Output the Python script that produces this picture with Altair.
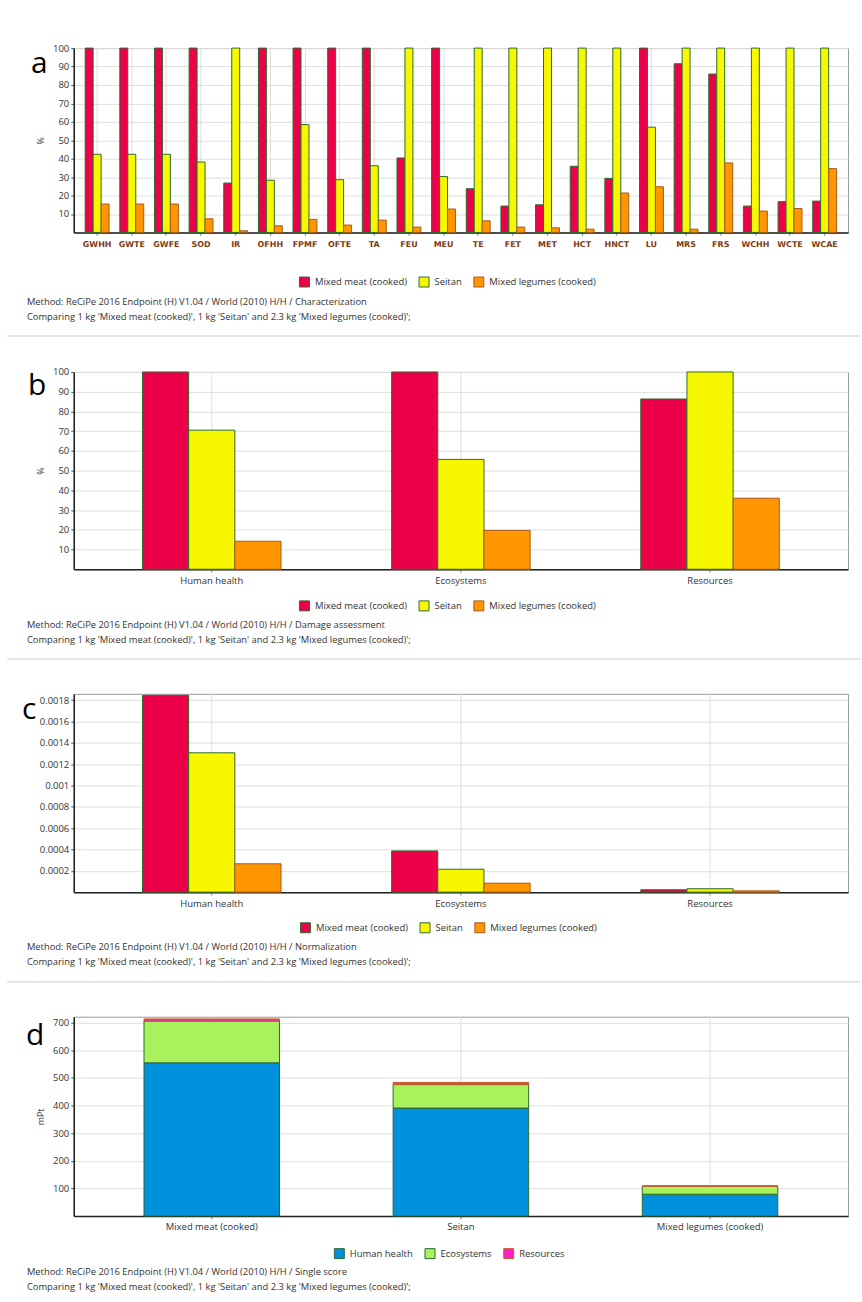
import altair as alt
import pandas as pd

FONT = "Open Sans"
TXT = "#333333"

series = ["Mixed meat (cooked)", "Seitan", "Mixed legumes (cooked)"]
series_fill = ["#EC0049", "#F7F700", "#FF9600"]
series_stroke = ["#2D6A2D", "#2D6A2D", "#A65A1E"]

letters = ["a", "b", "c", "d"]

# Panel a: characterization (%)
cats_a = ["GWHH", "GWTE", "GWFE", "SOD", "IR", "OFHH", "FPMF", "OFTE", "TA", "FEU", "MEU",
          "TE", "FET", "MET", "HCT", "HNCT", "LU", "MRS", "FRS", "WCHH", "WCTE", "WCAE"]
meat_a = [100, 100, 100, 100, 26.8, 100, 100, 100, 100, 40.4, 100,
          23.7, 14.3, 15.0, 35.9, 29.3, 100, 91.5, 85.9, 14.3, 16.7, 17.0]
seitan_a = [42.4, 42.4, 42.4, 38.2, 100, 28.3, 58.5, 28.6, 36.2, 100, 30.3,
            100, 100, 100, 100, 100, 57.1, 100, 100, 100, 100, 100]
legumes_a = [15.4, 15.4, 15.4, 7.4, 0.9, 3.6, 7.1, 4.0, 6.7, 2.9, 12.7,
             6.3, 2.9, 2.5, 1.8, 21.4, 24.8, 1.8, 37.7, 11.6, 13.0, 34.6]

# Panel b: damage assessment (%)
cats_b = ["Human health", "Ecosystems", "Resources"]
meat_b = [100, 100, 86.3]
seitan_b = [70.5, 55.7, 100]
legumes_b = [14.2, 19.7, 36.0]

# Panel c: normalization
meat_c = [0.001846, 0.000387, 0.0000224]
seitan_c = [0.001307, 0.000215, 0.000032]
legumes_c = [0.000266, 0.000084, 0.000012]

# Panel d: single score (mPt)
products_d = ["Mixed meat (cooked)", "Seitan", "Mixed legumes (cooked)"]
groups_d = ["Human health", "Ecosystems", "Resources"]
groups_fill = ["#0091DC", "#A9F25E", "#FF1FC8"]
groups_stroke = ["#2D6A2D", "#2D6A2D", "#C0602A"]
hh_d = [555, 391, 79]
eco_d = [151, 85, 28]
res_d = [8, 8, 3]

method_base = "Method: ReCiPe 2016 Endpoint (H) V1.04 / World (2010) H/H / "
method_suffix = ["Characterization", "Damage assessment", "Normalization", "Single score"]
comparing = "Comparing 1 kg 'Mixed meat (cooked)', 1 kg 'Seitan' and 2.3 kg 'Mixed legumes (cooked)';"

W = 777


def legend(lx, ly):
    return alt.Legend(title=None, orient="none", legendX=lx, legendY=ly, direction="horizontal",
                      symbolType="square", symbolSize=100, symbolStrokeWidth=1, symbolOpacity=1,
                      labelFont=FONT, labelFontSize=9.5, labelColor=TXT, labelOffset=5,
                      columnPadding=9)


def y_axis(values, title=None, fmt=None, pad=7):
    kw = dict(values=values, grid=True, gridColor="#dedede", gridWidth=1,
              domainColor="#222222", domainWidth=1.5, tickColor="#555555", tickSize=3,
              labelFont=FONT, labelFontSize=9.5, labelColor=TXT, labelPadding=2)
    if fmt:
        kw["format"] = fmt
    if title:
        kw.update(title=title, titleFont=FONT, titleFontSize=9, titleFontWeight="normal",
                  titleColor=TXT, titlePadding=pad)
    else:
        kw["title"] = None
    return alt.Axis(**kw)


def x_axis(bold=False):
    kw = dict(title=None, grid=True, gridColor="#dedede", bandPosition=0.5, labelAngle=0,
              domainColor="#222222", domainWidth=1.5, tickColor="#888888", tickSize=3,
              labelPadding=3)
    if bold:
        kw.update(labelFont="DejaVu Sans", labelFontSize=8, labelFontWeight="bold",
                  labelColor="#7E3A12", labelPadding=5)
    else:
        kw.update(labelFont=FONT, labelFontSize=9.5, labelColor=TXT)
    return alt.Axis(**kw)


def decorations(idx, h, lx, ly, t_y, sep_y=None, anchor=False):
    layers = []
    layers.append(alt.Chart(pd.DataFrame({"t": [letters[idx]]})).mark_text(
        font=FONT, fontSize=30, align="left", baseline="alphabetic", color="black"
    ).encode(x=alt.value(lx), y=alt.value(ly), text="t:N"))
    layers.append(alt.Chart(pd.DataFrame({"t": [method_base + method_suffix[idx]]})).mark_text(
        font=FONT, fontSize=9.4, align="left", baseline="middle", color=TXT
    ).encode(x=alt.value(-47), y=alt.value(h + t_y), text="t:N"))
    layers.append(alt.Chart(pd.DataFrame({"t": [comparing]})).mark_text(
        font=FONT, fontSize=9.4, align="left", baseline="middle", color=TXT
    ).encode(x=alt.value(-47), y=alt.value(h + t_y + 15), text="t:N"))
    if sep_y is not None:
        layers.append(alt.Chart(pd.DataFrame({"z": [0]})).mark_rule(
            color="#dcdcdc", strokeWidth=1.5
        ).encode(x=alt.value(-67), x2=alt.value(789), y=alt.value(h + sep_y)))
    if anchor:
        layers.append(alt.Chart(pd.DataFrame({"z": [0]})).mark_rule(
            color="white", strokeWidth=1
        ).encode(x=alt.value(-72.5), x2=alt.value(-65), y=alt.value(-44.5)))
    return layers


def grouped(idx, cats, vals, h, pi, po, ydom, yvals, fmt, ytitle, bold, lx, ly, letx, lety,
            t_y, sep_y, anchor=False):
    rows = []
    for s, arr in zip(series, vals):
        for c, v in zip(cats, arr):
            rows.append({"cat": c, "series": s, "value": v})
    df = pd.DataFrame(rows)
    lg = legend(lx, ly)
    bars = alt.Chart(df).mark_bar(strokeWidth=1, opacity=1).encode(
        x=alt.X("cat:N", sort=cats, scale=alt.Scale(paddingInner=pi, paddingOuter=po),
                axis=x_axis(bold)),
        xOffset=alt.XOffset("series:N", sort=series,
                            scale=alt.Scale(paddingInner=0, paddingOuter=0)),
        y=alt.Y("value:Q", scale=alt.Scale(domain=ydom, nice=False, zero=True),
                axis=y_axis(yvals, ytitle, fmt)),
        color=alt.Color("series:N", scale=alt.Scale(domain=series, range=series_fill), legend=lg),
        stroke=alt.Stroke("series:N", scale=alt.Scale(domain=series, range=series_stroke), legend=lg),
    )
    layers = [bars] + decorations(idx, h, letx, lety, t_y, sep_y, anchor)
    return alt.layer(*layers).properties(width=W, height=h)


pa = grouped(0, cats_a, [meat_a, seitan_a, legumes_a], 185, 0.31, 0.33, [0, 100],
             list(range(10, 101, 10)), None, "%", True, 226, 229, -43, 25, 70, 104, anchor=True)
pb = grouped(1, cats_b, [meat_b, seitan_b, legumes_b], 198, 0.444, 0.276, [0, 100],
             list(range(10, 101, 10)), None, "%", False, 226, 229, -46, 23, 56, 90)
pc = grouped(2, cats_b, [meat_c, seitan_c, legumes_c], 199, 0.444, 0.276, [0, 0.00186],
             [0.0002, 0.0004, 0.0006, 0.0008, 0.001, 0.0012, 0.0014, 0.0016, 0.0018],
             ".4~f", None, False, 227, 229, -52, 25, 55, 90)

rows_d = []
for i, (g, arr) in enumerate(zip(groups_d, [hh_d, eco_d, res_d])):
    for p, v in zip(products_d, arr):
        rows_d.append({"product": p, "group": g, "order": i, "value": v})
df_d = pd.DataFrame(rows_d)
lg_d = legend(261, 232)
bars_d = alt.Chart(df_d).mark_bar(strokeWidth=1, opacity=1).encode(
    x=alt.X("product:N", sort=products_d, scale=alt.Scale(paddingInner=0.456, paddingOuter=0.282),
            axis=x_axis(False)),
    y=alt.Y("value:Q", stack="zero", scale=alt.Scale(domain=[0, 722], nice=False),
            axis=y_axis(list(range(100, 701, 100)), "mPt")),
    color=alt.Color("group:N", scale=alt.Scale(domain=groups_d, range=groups_fill), legend=lg_d),
    stroke=alt.Stroke("group:N", scale=alt.Scale(domain=groups_d, range=groups_stroke), legend=lg_d),
    order=alt.Order("order:Q"),
)
pd_ = alt.layer(bars_d, *decorations(3, 200, -48, 28, 56)).properties(width=W, height=200)

RS = dict(x="independent", y="independent", color="independent", stroke="independent",
          xOffset="independent")
RL = dict(color="independent", stroke="independent")

inner = alt.vconcat(pb, pc, pd_, spacing=125, bounds="flush").resolve_scale(**RS).resolve_legend(**RL)

chart = alt.vconcat(
    pa,
    inner,
    spacing=140, bounds="flush",
).resolve_scale(**RS).resolve_legend(**RL).properties(padding=0, background="white").configure_view(
    stroke="#9a9a9a", strokeWidth=1
)

chart.save("out.html", embed_options={"renderer": "svg", "actions": False})
